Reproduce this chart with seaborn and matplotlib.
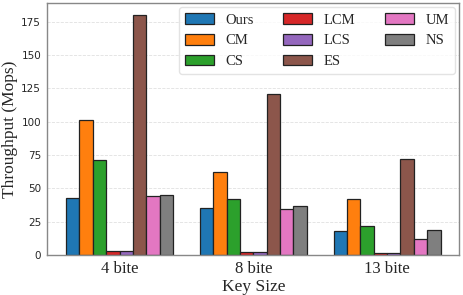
import pandas as pd
import matplotlib
matplotlib.use('Agg')
import matplotlib.pyplot as plt
import seaborn as sns

# Throughput per key size
key_sizes = ['4 bite', '8 bite', '13 bite']
methods = ['Ours', 'CM', 'CS', 'LCM', 'LCS', 'ES', 'UM', 'NS']
ours = [43, 35, 18]
cm = [101, 62, 42]
cs = [71.5, 42, 22]
lcm = [3.5, 2.5, 2]
lcs = [3.5, 2.5, 2]
es = [180, 121, 72]
um = [44, 34.5, 12]
ns = [45, 36.5, 19]

values = [ours, cm, cs, lcm, lcs, es, um, ns]
rows = []
for m, vals in zip(methods, values):
    for k, v in zip(key_sizes, vals):
        rows.append({'Key Size': k, 'Method': m, 'Throughput': v})
df = pd.DataFrame(rows)

sns.set_style('white')
plt.rcParams['font.family'] = ['Liberation Serif', 'DejaVu Serif']

fig, ax = plt.subplots(figsize=(4.64, 2.95), dpi=100)
sns.barplot(data=df, x='Key Size', y='Throughput', hue='Method',
            hue_order=methods, order=key_sizes, palette='tab10',
            edgecolor='#222222', linewidth=0.9, saturation=1, ax=ax)

ax.set_xlim(-0.54, 2.54)
ax.set_ylim(0, 189)
ax.set_yticks([0, 25, 50, 75, 100, 125, 150, 175])
ax.yaxis.grid(True, linestyle='--', color='#e0e0e0', linewidth=0.6)
ax.set_axisbelow(True)

for lab in ax.get_yticklabels():
    lab.set_fontfamily('DejaVu Sans')
    lab.set_fontsize(7.5)
for lab in ax.get_xticklabels():
    lab.set_fontsize(12)
ax.tick_params(axis='both', length=2.5, width=0.6, color='#444444', pad=2)

ax.set_xlabel('Key Size', fontsize=12.5, labelpad=1)
ax.set_ylabel('Throughput (Mops)', fontsize=12.5, labelpad=2)

for s in ax.spines.values():
    s.set_color('#888888')
    s.set_linewidth(1.0)

ax.legend(ncol=3, fontsize=10.5, loc='upper right', frameon=True,
          edgecolor='#dddddd', borderaxespad=0.3, handleheight=0.75)

fig.subplots_adjust(left=0.102, right=0.99, top=0.99, bottom=0.135)
fig.savefig('out.png', dpi=100)
